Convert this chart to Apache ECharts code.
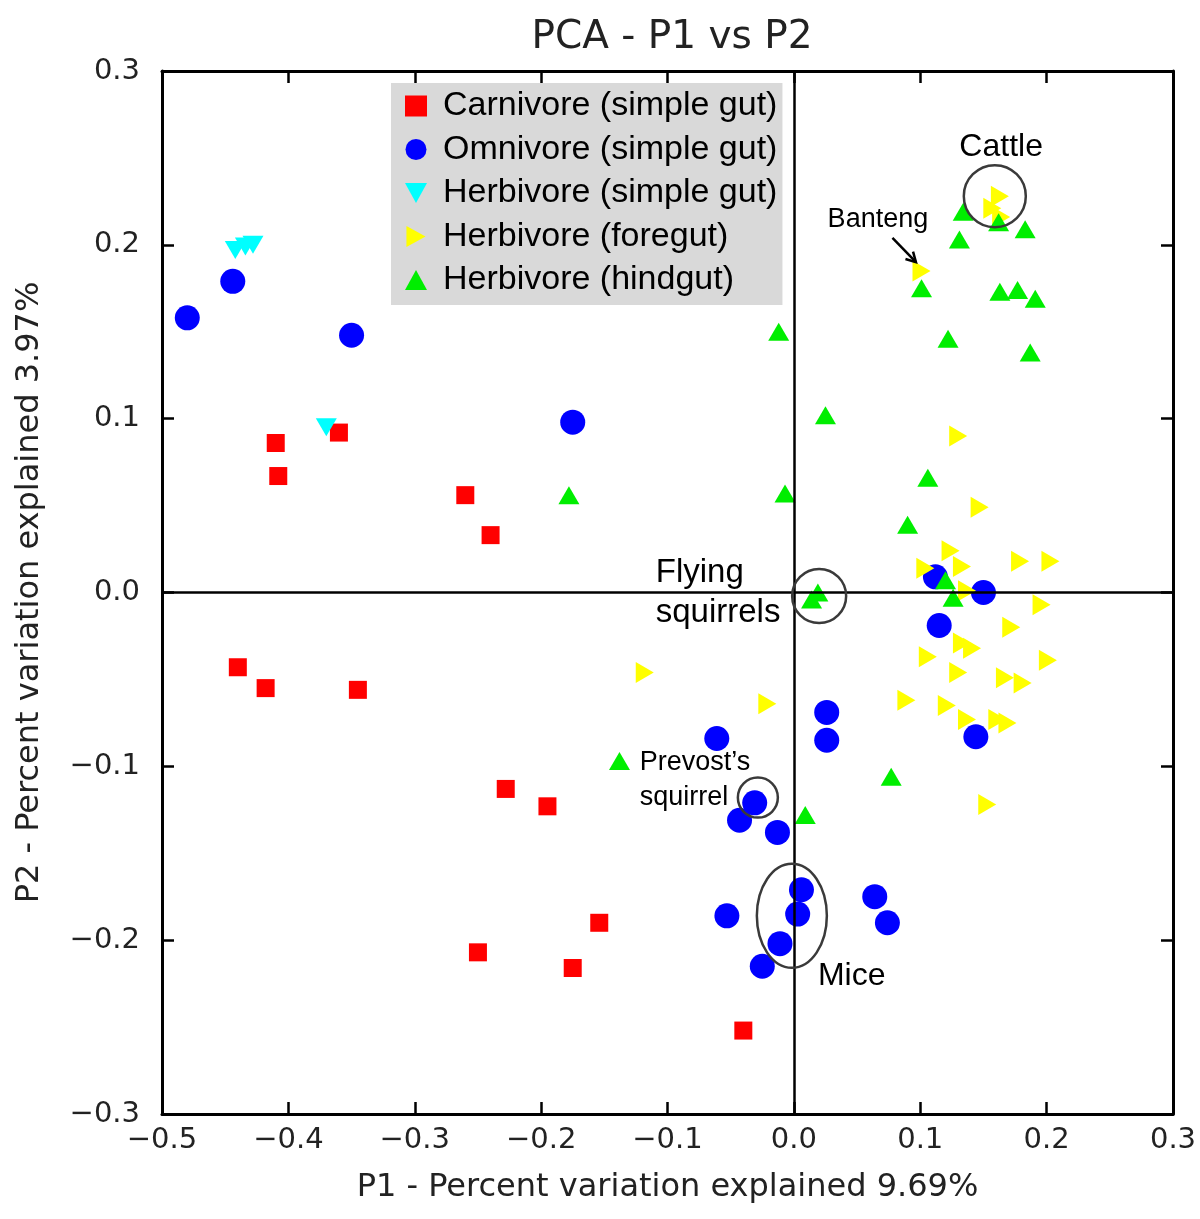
<!DOCTYPE html>
<html><head><meta charset="utf-8">
<script src="https://cdn.jsdelivr.net/npm/echarts@6/dist/echarts.min.js"></script>
<style>html,body{margin:0;padding:0;background:#fff}#c{width:1200px;height:1219px}</style>
</head><body><div id="c"></div>
<script>
// ---- data (P1, P2) ----
const carnivore = [
  [-0.360, 0.092], [-0.410, 0.086], [-0.408, 0.067], [-0.260, 0.056], [-0.240, 0.033],
  [-0.440, -0.043], [-0.418, -0.055], [-0.345, -0.056], [-0.228, -0.113], [-0.195, -0.123],
  [-0.154, -0.190], [-0.250, -0.207], [-0.175, -0.216], [-0.040, -0.252]
];
const omnivore = [
  [-0.480, 0.158], [-0.444, 0.179], [-0.350, 0.148], [-0.175, 0.098], [0.112, 0.009],
  [0.150, 0.000], [0.115, -0.019], [0.144, -0.083], [-0.061, -0.084], [0.026, -0.069],
  [0.026, -0.085], [-0.031, -0.121], [-0.043, -0.131], [-0.013, -0.138], [0.006, -0.171],
  [0.003, -0.185], [-0.011, -0.202], [-0.025, -0.215], [-0.053, -0.186], [0.064, -0.175],
  [0.074, -0.190]
];
const herbSimple = [[-0.442, 0.197], [-0.434, 0.199], [-0.428, 0.200], [-0.370, 0.095]];
const herbForegut = [
  [0.163, 0.228], [0.157, 0.221], [0.164, 0.216], [0.101, 0.185],
  [0.130, 0.090], [0.147, 0.049], [0.124, 0.024], [0.104, 0.014], [0.133, 0.015],
  [0.179, 0.018], [0.203, 0.018], [0.137, 0.001], [0.196, -0.007], [0.172, -0.020],
  [0.133, -0.029], [0.141, -0.032], [0.106, -0.037], [0.201, -0.039], [0.130, -0.046],
  [0.167, -0.049], [0.181, -0.052], [0.089, -0.062], [0.121, -0.065], [0.137, -0.073],
  [0.161, -0.073], [0.169, -0.075], [0.153, -0.122], [-0.118, -0.046], [-0.021, -0.064]
];
const herbHindgut = [
  [0.134, 0.219], [0.162, 0.213], [0.183, 0.209], [0.131, 0.203], [0.101, 0.175],
  [0.163, 0.173], [0.177, 0.174], [0.191, 0.169], [0.122, 0.146], [0.187, 0.138],
  [-0.012, 0.150], [0.025, 0.102], [0.106, 0.066], [0.090, 0.039], [-0.007, 0.057],
  [-0.178, 0.056], [0.014, -0.004], [0.019, 0.000], [0.120, 0.007], [0.126, -0.003],
  [-0.138, -0.097], [0.009, -0.128], [0.077, -0.106]
];
const seriesNames = ['Carnivore (simple gut)', 'Omnivore (simple gut)', 'Herbivore (simple gut)', 'Herbivore (foregut)', 'Herbivore (hindgut)'];
const xTicks = {min: -0.5, max: 0.3, interval: 0.1};
const yTicks = {min: -0.3, max: 0.3, interval: 0.1};

// annotations (data coordinates)
const annCircles = [
  {c: [0.159, 0.228], rx: 31, ry: 31},
  {c: [0.020, -0.002], rx: 27, ry: 27},
  {c: [-0.0285, -0.118], rx: 20, ry: 20},
  {c: [-0.0016, -0.186], rx: 35, ry: 52}
];
const annTexts = [
  {t: 'Cattle', p: [0.164, 0.256], align: 'center', size: 32},
  {t: 'Banteng', p: [0.0665, 0.2147], align: 'center', size: 27},
  {t: 'Flying', p: [-0.1093, 0.0112], align: 'left', size: 33},
  {t: 'squirrels', p: [-0.1093, -0.0118], align: 'left', size: 33},
  {t: 'Prevost\u2019s', p: [-0.122, -0.0977], align: 'left', size: 27},
  {t: 'squirrel', p: [-0.122, -0.1179], align: 'left', size: 27},
  {t: 'Mice', p: [0.019, -0.2205], align: 'left', size: 32}
];
const annArrow = {from: [0.078, 0.204], to: [0.0966, 0.190]};

const fmt = v => Math.abs(v) < 1e-9 ? '0.0' : (v < 0 ? '\u2212' : '') + Math.abs(v).toFixed(1);
const tickFont = {fontFamily: 'DejaVu Sans', fontSize: 29, color: '#222'};
const triRight = 'path://M0,0 L10,5.5 L0,11 Z';
const triDown = 'path://M0,0 L11,0 L5.5,10 Z';
const triUp = 'path://M5.5,0 L11,10 L0,10 Z';

const chart = echarts.init(document.getElementById('c'), null, {renderer: 'canvas'});
const axisCommon = {
  type: 'value', splitLine: {show: false},
  axisLine: {show: true, onZero: false, lineStyle: {color: '#000', width: 3}},
  axisTick: {show: true, inside: true, length: 12, lineStyle: {color: '#000', width: 2.5}}
};
chart.setOption({
  animation: false,
  backgroundColor: '#fff',
  title: {text: 'PCA - P1 vs P2', left: 667, textAlign: 'center', top: 13,
    textStyle: {fontFamily: 'DejaVu Sans', fontSize: 39, fontWeight: 'normal', color: '#222'}},
  grid: {left: 162, right: 27, top: 71, bottom: 105},
  legend: {
    orient: 'vertical', left: 391, top: 83, backgroundColor: '#d9d9d9',
    padding: [6, 5, 8, 14], itemGap: 9.5, itemWidth: 22, itemHeight: 21,
    textStyle: {fontFamily: 'Liberation Sans', fontSize: 34, color: '#000', lineHeight: 34,
      padding: [0, 0, 0, 11]},
    data: seriesNames
  },
  xAxis: [
    Object.assign({}, axisCommon, xTicks, {position: 'bottom',
      axisLabel: Object.assign({formatter: fmt, margin: 12}, tickFont),
      name: 'P1 - Percent variation explained 9.69%', nameLocation: 'middle', nameGap: 58,
      nameTextStyle: {fontFamily: 'DejaVu Sans', fontSize: 32, color: '#222'}}),
    Object.assign({}, axisCommon, xTicks, {position: 'top', axisLabel: {show: false}})
  ],
  yAxis: [
    Object.assign({}, axisCommon, yTicks, {position: 'left',
      axisLabel: Object.assign({formatter: fmt, margin: 22}, tickFont),
      name: 'P2 - Percent variation explained 3.97%', nameLocation: 'middle', nameGap: 116,
      nameTextStyle: {fontFamily: 'DejaVu Sans', fontSize: 32, color: '#222'}}),
    Object.assign({}, axisCommon, yTicks, {position: 'right', axisLabel: {show: false}})
  ],
  series: [
    {name: seriesNames[0], type: 'scatter', data: carnivore, symbol: 'rect', symbolSize: 18,
      itemStyle: {color: '#ff0000', opacity: 1}},
    {name: seriesNames[1], type: 'scatter', data: omnivore, symbol: 'circle', symbolSize: 25,
      itemStyle: {color: '#0000ff', opacity: 1}},
    {name: seriesNames[2], type: 'scatter', data: herbSimple, symbol: triDown, symbolSize: [21, 18],
      itemStyle: {color: '#00ffff', opacity: 1}},
    {name: seriesNames[3], type: 'scatter', data: herbForegut, symbol: triRight, symbolSize: [18, 21],
      itemStyle: {color: '#ffff00', opacity: 1}},
    {name: seriesNames[4], type: 'scatter', data: herbHindgut, symbol: triUp, symbolSize: [21, 18],
      itemStyle: {color: '#00ee00', opacity: 1}},
    {type: 'scatter', data: [], z: 10, silent: true,
      markLine: {silent: true, symbol: 'none', label: {show: false},
        lineStyle: {color: '#000', width: 2.5, type: 'solid'},
        data: [{xAxis: 0}, {yAxis: 0}]}}
  ]
});

const px = p => chart.convertToPixel({xAxisIndex: 0, yAxisIndex: 0}, p);
const g = [];
annCircles.forEach(a => {
  const c = px(a.c);
  g.push({type: 'ellipse', shape: {cx: c[0], cy: c[1], rx: a.rx, ry: a.ry}, z: 100,
    style: {fill: 'none', stroke: '#3a3a3a', lineWidth: 2.5}});
});
annTexts.forEach(a => {
  const c = px(a.p);
  g.push({type: 'text', x: c[0], y: c[1], z: 100,
    style: {text: a.t, fontFamily: 'Liberation Sans', fontSize: a.size, fill: '#000',
      align: a.align, verticalAlign: 'middle'}});
});
(function () {
  const f = px(annArrow.from), t = px(annArrow.to);
  const ang = Math.atan2(t[1] - f[1], t[0] - f[0]);
  const L = 11, w = 0.5;
  const h1 = [t[0] - L * Math.cos(ang - w), t[1] - L * Math.sin(ang - w)];
  const h2 = [t[0] - L * Math.cos(ang + w), t[1] - L * Math.sin(ang + w)];
  g.push({type: 'polyline', z: 100, shape: {points: [f, t]}, style: {stroke: '#000', lineWidth: 2.5, fill: 'none'}});
  g.push({type: 'polyline', z: 100, shape: {points: [h1, t, h2]}, style: {stroke: '#000', lineWidth: 2.5, fill: 'none'}});
})();
chart.setOption({graphic: g});
</script>
</body></html>
